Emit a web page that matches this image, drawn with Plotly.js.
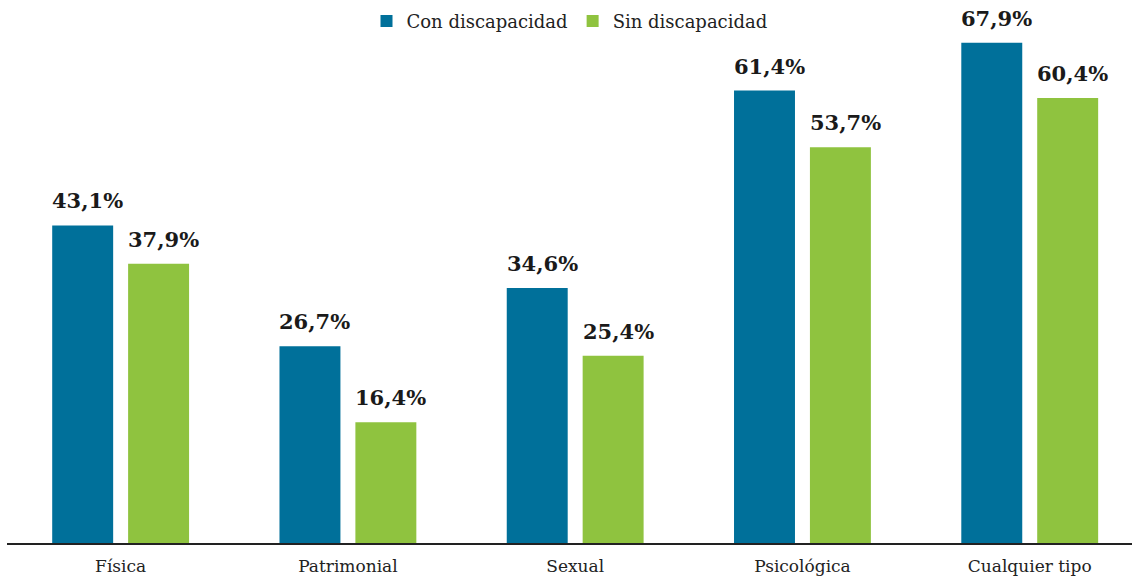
<!DOCTYPE html>
<html><head><meta charset="utf-8">
<script src="https://cdn.plot.ly/plotly-3.0.1.min.js"></script>
<style>html,body{margin:0;padding:0;background:#fff}#chart{width:1132px;height:578px}</style>
</head><body><div id="chart"></div>
<script>
const categories = ["Física", "Patrimonial", "Sexual", "Psicológica", "Cualquier tipo"];
const conDiscapacidad = [43.1, 26.7, 34.6, 61.4, 67.9];
const sinDiscapacidad = [37.9, 16.4, 25.4, 53.7, 60.4];
const seriesNames = ["Con discapacidad", "Sin discapacidad"];

const blue = "#00709a", green = "#8fc33f";
const fmt = v => v.toFixed(1).replace(".", ",") + "%";

const traces = [
  {type: "bar", name: seriesNames[0], x: categories, y: conDiscapacidad, marker: {color: blue}, hoverinfo: "none"},
  {type: "bar", name: seriesNames[1], x: categories, y: sinDiscapacidad, marker: {color: green}, hoverinfo: "none"}
];

const bargap = 0.332, groupgap = 0.197;
const slot = (1 - bargap) / 2;
const annotations = [];
[conDiscapacidad, sinDiscapacidad].forEach((vals, s) => {
  vals.forEach((v, i) => {
    annotations.push({
      x: i + (s === 0 ? -slot / 2 : slot / 2), y: v, xref: "x", yref: "y",
      text: "<b>" + fmt(v) + "</b>", showarrow: false, yanchor: "bottom", yshift: 10, xshift: 5,
      font: {family: "DejaVu Serif", size: 21, color: "#1a1a1a"}
    });
  });
});

const layout = {
  width: 1132, height: 578,
  margin: {l: 7, r: 0, t: 0, b: 35},
  paper_bgcolor: "#fff", plot_bgcolor: "#fff",
  barmode: "group", bargap: bargap, bargroupgap: groupgap,
  showlegend: true,
  legend: {orientation: "h", x: 0.5, xanchor: "center", y: 0.995, yanchor: "top", xref: "paper",
           font: {family: "DejaVu Serif", size: 18, color: "#222"}, itemwidth: 30, traceorder: "normal"},
  xaxis: {type: "category", range: [-0.5, 4.45], showline: true, linecolor: "#222", linewidth: 2,
          ticks: "", ticklabelstandoff: 7, showgrid: false, zeroline: false,
          tickfont: {family: "DejaVu Serif", size: 17, color: "#222"}},
  yaxis: {range: [0, 73.7], visible: false, showgrid: false, zeroline: false},
  annotations: annotations
};
Plotly.newPlot("chart", traces, layout, {displayModeBar: false, staticPlot: true});
</script></body></html>
